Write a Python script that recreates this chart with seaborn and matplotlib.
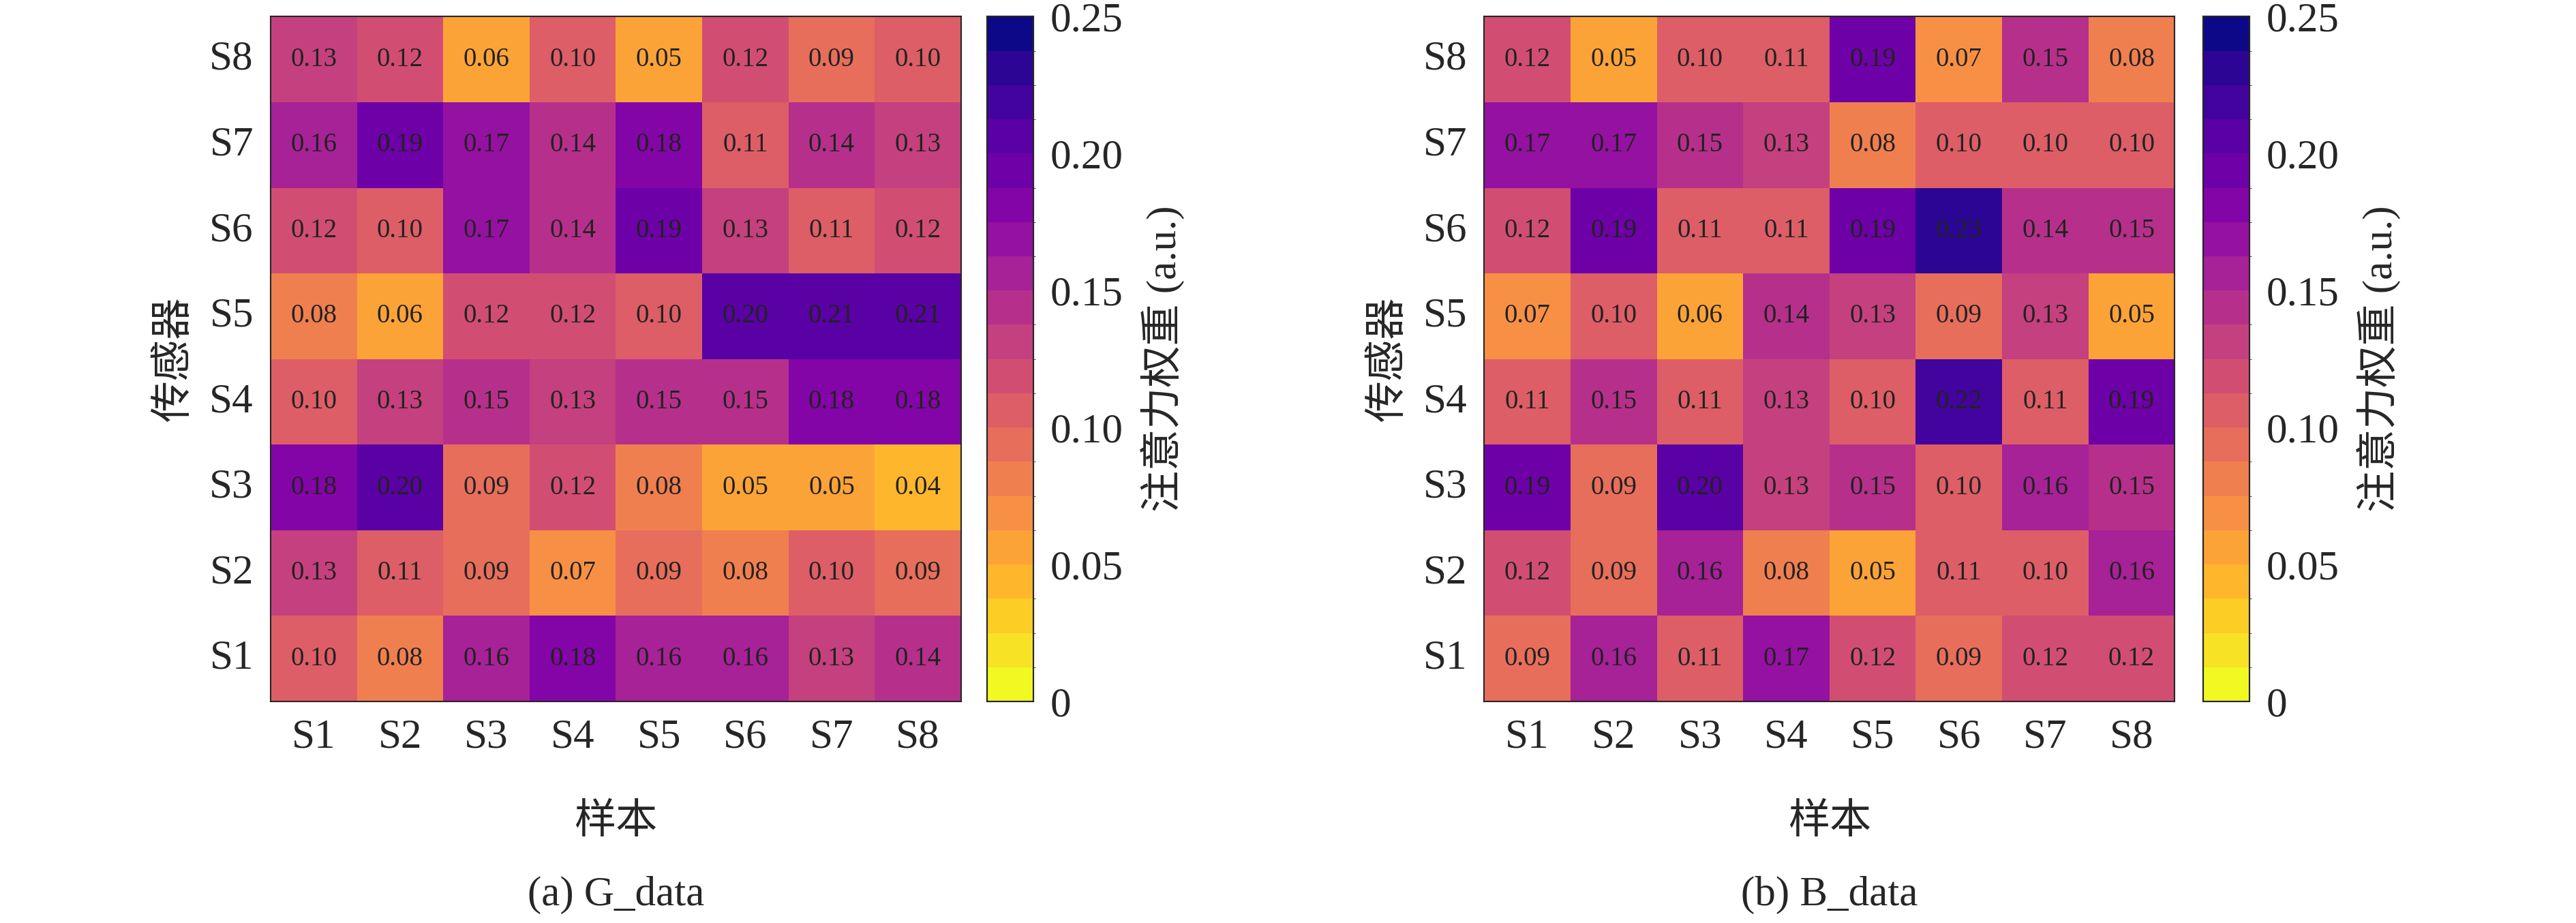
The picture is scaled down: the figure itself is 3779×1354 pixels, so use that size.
import numpy as np
import matplotlib
matplotlib.use("Agg")
import matplotlib.pyplot as plt
import seaborn as sns
from matplotlib.colors import BoundaryNorm, ListedColormap

sns.set_style("white")
plt.rcParams['font.family'] = ['Liberation Serif', 'Noto Sans CJK SC']
plt.rcParams['axes.unicode_minus'] = False

labels = ["S1", "S2", "S3", "S4", "S5", "S6", "S7", "S8"]
rows_top_down = ["S8", "S7", "S6", "S5", "S4", "S3", "S2", "S1"]

g_data = [
    [0.13, 0.12, 0.06, 0.10, 0.05, 0.12, 0.09, 0.10],
    [0.16, 0.19, 0.17, 0.14, 0.18, 0.11, 0.14, 0.13],
    [0.12, 0.10, 0.17, 0.14, 0.19, 0.13, 0.11, 0.12],
    [0.08, 0.06, 0.12, 0.12, 0.10, 0.20, 0.21, 0.21],
    [0.10, 0.13, 0.15, 0.13, 0.15, 0.15, 0.18, 0.18],
    [0.18, 0.20, 0.09, 0.12, 0.08, 0.05, 0.05, 0.04],
    [0.13, 0.11, 0.09, 0.07, 0.09, 0.08, 0.10, 0.09],
    [0.10, 0.08, 0.16, 0.18, 0.16, 0.16, 0.13, 0.14],
]
b_data = [
    [0.12, 0.05, 0.10, 0.11, 0.19, 0.07, 0.15, 0.08],
    [0.17, 0.17, 0.15, 0.13, 0.08, 0.10, 0.10, 0.10],
    [0.12, 0.19, 0.11, 0.11, 0.19, 0.23, 0.14, 0.15],
    [0.07, 0.10, 0.06, 0.14, 0.13, 0.09, 0.13, 0.05],
    [0.11, 0.15, 0.11, 0.13, 0.10, 0.22, 0.11, 0.19],
    [0.19, 0.09, 0.20, 0.13, 0.15, 0.10, 0.16, 0.15],
    [0.12, 0.09, 0.16, 0.08, 0.05, 0.11, 0.10, 0.16],
    [0.09, 0.16, 0.11, 0.17, 0.12, 0.09, 0.12, 0.12],
]
titles = ["(a) G_data", "(b) B_data"]

nlev = 20
base = plt.get_cmap("plasma_r")
cmap = ListedColormap(base(np.linspace(0, 1, nlev)))
norm = BoundaryNorm(np.linspace(0, 0.25, nlev + 1), nlev)

fig = plt.figure(figsize=(37.8, 13.54), dpi=100)
ax_pos = [[0.105, 0.24, 0.268, 0.742], [0.576, 0.24, 0.268, 0.742]]
cb_pos = [[0.383, 0.24, 0.018, 0.742], [0.855, 0.24, 0.018, 0.742]]
fs = 44

for data, title, ap, cp in zip([g_data, b_data], titles, ax_pos, cb_pos):
    ax = fig.add_axes(ap)
    cax = fig.add_axes(cp)
    sns.heatmap(np.array(data), ax=ax, cbar_ax=cax, cmap=cmap, norm=norm,
                annot=True, fmt=".2f", annot_kws={"size": 28, "color": "#222222"},
                xticklabels=labels, yticklabels=rows_top_down, linewidths=0)
    for s in ax.spines.values():
        s.set_visible(True); s.set_linewidth(1.5)
    ax.tick_params(labelsize=fs, length=0, pad=18)
    ax.set_yticklabels(rows_top_down, rotation=0)
    ax.set_xlabel("样本", fontsize=fs, labelpad=50)
    ax.set_ylabel("传感器", fontsize=fs, labelpad=16)
    cax.set_yticks([0, 0.05, 0.10, 0.15, 0.20, 0.25])
    cax.set_yticklabels(["0", "0.05", "0.10", "0.15", "0.20", "0.25"])
    cax.tick_params(labelsize=fs, length=0, pad=18)
    cax.set_ylabel("注意力权重 (a.u.)", fontsize=fs, labelpad=18)
    for s in cax.spines.values():
        s.set_visible(True); s.set_linewidth(1.5)
    ax.text(0.5, -0.283, title, transform=ax.transAxes, ha="center", va="center", fontsize=fs)

fig.savefig("out.png", dpi=100, facecolor="white")
